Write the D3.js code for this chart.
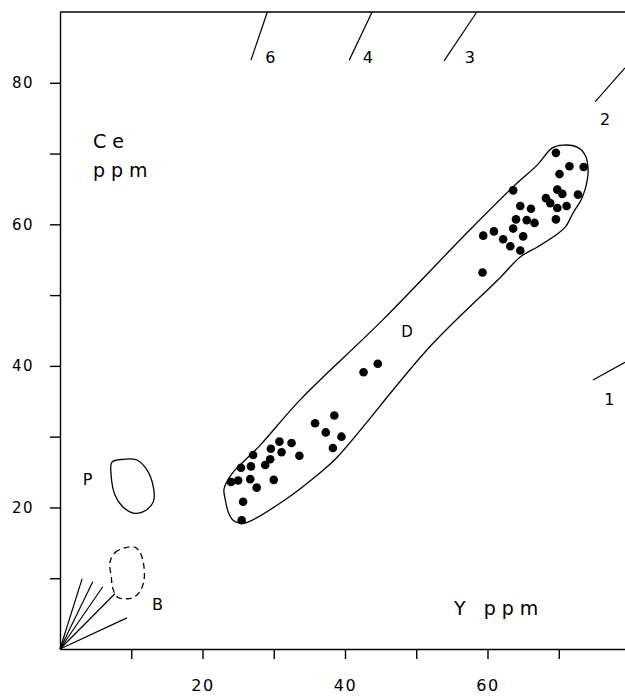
<!DOCTYPE html>
<html>
<head>
<meta charset="utf-8">
<script src="https://cdn.jsdelivr.net/npm/d3@7"></script>
<style>
    body { margin: 0; background: #fff; }
    svg { display: block; font-family: "DejaVu Sans", sans-serif; }
    .axis path, .axis line { stroke: #000; stroke-width: 1.4; }
    .axis text { letter-spacing: 1.5px; fill: #000; }
    .lbl { fill: #000; }
</style>
</head>
<body>
<svg width="625" height="696"></svg>
<script>
// tick values
var xTicks = [10, 20, 30, 40, 50, 60, 70];
var yTicks = [10, 20, 30, 40, 50, 60, 70, 80];
var labelledTicks = [20, 40, 60, 80];

// samples: Y ppm vs Ce ppm
var yPpm = [24.0, 25.0, 25.4, 26.8, 27.1, 26.7, 27.6, 25.7, 25.5, 28.8, 29.5, 29.6, 30.8, 31.1, 32.5, 33.6, 30.0,
    35.8, 38.5, 37.3, 39.5, 38.3, 42.6, 44.6,
    69.6, 71.5, 73.5, 70.1, 63.6, 69.8, 70.5, 72.7, 68.2, 68.8, 69.8, 71.1, 64.6, 66.1, 64.0, 65.5, 66.6,
    69.6, 63.6, 59.4, 60.9, 62.2, 65.0, 63.2, 64.6, 59.3];
var cePpm = [23.6, 23.8, 25.6, 25.8, 27.4, 24.0, 22.8, 20.8, 18.2, 26.0, 26.8, 28.3, 29.3, 27.8, 29.1, 27.3, 23.9,
    31.9, 33.0, 30.6, 30.0, 28.4, 39.1, 40.3,
    70.1, 68.2, 68.1, 67.1, 64.8, 64.9, 64.3, 64.2, 63.7, 63.0, 62.3, 62.6, 62.6, 62.2, 60.7, 60.6, 60.2,
    60.7, 59.4, 58.4, 59.0, 57.9, 58.3, 56.9, 56.3, 53.2];

// field D outline
var fieldDY = [70.6, 72.6, 73.7, 74.1, 74.0, 73.3, 72.0, 70.9, 69.2, 67.0, 64.6, 61.8, 51.9, 38.9, 36.5, 31.9,
    26.3, 25.3, 24.3, 23.6, 23.2, 23.0, 23.4, 24.3, 26.0, 28.1, 33.7, 45.3, 57.5, 63.6, 67.0, 69.1];
var fieldDCe = [71.2, 70.9, 69.8, 68.1, 66.2, 63.8, 61.6, 59.6, 58.2, 56.8, 55.4, 52.5, 42.7, 27.1, 24.9, 21.3,
    17.9, 17.8, 18.2, 19.4, 21.1, 22.5, 23.6, 25.0, 26.7, 28.8, 35.2, 46.5, 59.2, 65.3, 68.4, 70.8];

// field P outline
var fieldPY = [7.3, 8.8, 10.8, 12.2, 13.1, 13.1, 11.7, 10.3, 8.8, 7.7, 7.2];
var fieldPCe = [26.4, 26.8, 26.7, 25.3, 22.9, 20.8, 19.4, 19.2, 20.1, 21.8, 24.3];

// field B outline (dashed)
var fieldBY = [7.0, 7.7, 9.1, 10.5, 11.2, 11.7, 11.8, 11.2, 10.3, 9.4, 8.1, 7.4, 7.2];
var fieldBCe = [12.2, 13.6, 14.3, 14.4, 13.7, 12.2, 9.8, 8.1, 7.3, 7.1, 7.3, 8.6, 10.2];

// Ce/Y ratio lines: short fan from origin, and marks at the frame
var fanEndY = [3.1, 4.6, 6.0, 7.7, 9.4];
var fanEndCe = [9.9, 9.5, 8.8, 7.8, 4.4];
var ratioNames = ["6", "4", "3", "2", "1"];
var markY0 = [26.8, 40.6, 53.9, 75.1, 74.8];
var markCe0 = [83.2, 83.2, 83.1, 77.3, 38.0];
var markY1 = [29.1, 43.8, 58.5, 79.3, 79.3];
var markCe1 = [90.0, 90.0, 90.0, 82.1, 40.5];
var markTextY = [28.8, 42.5, 56.8, 75.8, 76.4];
var markTextCe = [82.8, 82.8, 82.8, 74.0, 34.5];

// field names
var fieldNames = ["D", "P", "B"];
var fieldTextY = [47.9, 3.2, 12.9];
var fieldTextCe = [44.1, 23.2, 5.5];

var svg = d3.select("svg");

var x = d3.scaleLinear().domain([0, 80]).range([60, 630]);
var y = d3.scaleLinear().domain([0, 90]).range([649, 12]);

function zip(a, b) {
    return a.map(function(v, i) { return [v, b[i]]; });
}

var outline = d3.line()
    .x(function(d) { return x(d[0]); })
    .y(function(d) { return y(d[1]); })
    .curve(d3.curveCatmullRomClosed.alpha(0.5));

// axes
var fmt = function(d) { return labelledTicks.indexOf(d) >= 0 ? d : ""; };

svg.append("g")
    .attr("class", "axis")
    .attr("transform", "translate(" + x(0) + ",0)")
    .call(d3.axisLeft(y).tickValues(yTicks).tickFormat(fmt).tickSize(10).tickSizeOuter(0).tickPadding(16))
    .attr("font-family", null)
    .attr("font-size", 15);

svg.append("g")
    .attr("class", "axis")
    .attr("transform", "translate(0," + y(0) + ")")
    .call(d3.axisBottom(x).tickValues(xTicks).tickFormat(fmt).tickSize(10).tickSizeOuter(0).tickPadding(21))
    .attr("font-family", null)
    .attr("font-size", 16);

// top frame line
svg.append("line")
    .attr("x1", x(0)).attr("x2", 625)
    .attr("y1", y(90)).attr("y2", y(90))
    .attr("stroke", "#000").attr("stroke-width", 1.4);

// ratio fan at origin
svg.append("g").selectAll("line")
    .data(fanEndY)
    .enter().append("line")
    .attr("x1", x(0)).attr("y1", y(0))
    .attr("x2", function(d) { return x(d); })
    .attr("y2", function(d, i) { return y(fanEndCe[i]); })
    .attr("stroke", "#000").attr("stroke-width", 1.2);

// ratio marks near the frame
svg.append("g").selectAll("line")
    .data(ratioNames)
    .enter().append("line")
    .attr("x1", function(d, i) { return x(markY0[i]); })
    .attr("y1", function(d, i) { return y(markCe0[i]); })
    .attr("x2", function(d, i) { return x(markY1[i]); })
    .attr("y2", function(d, i) { return y(markCe1[i]); })
    .attr("stroke", "#000").attr("stroke-width", 1.2);

svg.append("g").selectAll("text")
    .data(ratioNames)
    .enter().append("text")
    .attr("class", "lbl")
    .attr("x", function(d, i) { return x(markTextY[i]); })
    .attr("y", function(d, i) { return y(markTextCe[i]); })
    .attr("font-size", 16)
    .text(function(d) { return d; });

// fields
svg.append("path")
    .attr("d", outline(zip(fieldDY, fieldDCe)))
    .attr("fill", "none").attr("stroke", "#000").attr("stroke-width", 1.3);

svg.append("path")
    .attr("d", outline(zip(fieldPY, fieldPCe)))
    .attr("fill", "none").attr("stroke", "#000").attr("stroke-width", 1.3);

svg.append("path")
    .attr("d", outline(zip(fieldBY, fieldBCe)))
    .attr("fill", "none").attr("stroke", "#000").attr("stroke-width", 1.3)
    .attr("stroke-dasharray", "6,4");

svg.append("g").selectAll("text")
    .data(fieldNames)
    .enter().append("text")
    .attr("class", "lbl")
    .attr("x", function(d, i) { return x(fieldTextY[i]); })
    .attr("y", function(d, i) { return y(fieldTextCe[i]); })
    .attr("font-size", function(d) { return d === "D" ? 15 : 16; })
    .text(function(d) { return d; });

// samples
svg.append("g").selectAll("circle")
    .data(yPpm)
    .enter().append("circle")
    .attr("cx", function(d) { return x(d); })
    .attr("cy", function(d, i) { return y(cePpm[i]); })
    .attr("r", 4.3)
    .attr("fill", "#000");

// axis titles
svg.append("text").attr("class", "lbl")
    .attr("x", 93).attr("y", 148)
    .attr("font-size", 19).attr("letter-spacing", 6)
    .text("Ce");
svg.append("text").attr("class", "lbl")
    .attr("x", 93).attr("y", 177)
    .attr("font-size", 19).attr("letter-spacing", 6)
    .text("ppm");
svg.append("text").attr("class", "lbl")
    .attr("x", 454).attr("y", 615)
    .attr("font-size", 19).attr("letter-spacing", 6)
    .text("Y ppm");
</script>
</body>
</html>
